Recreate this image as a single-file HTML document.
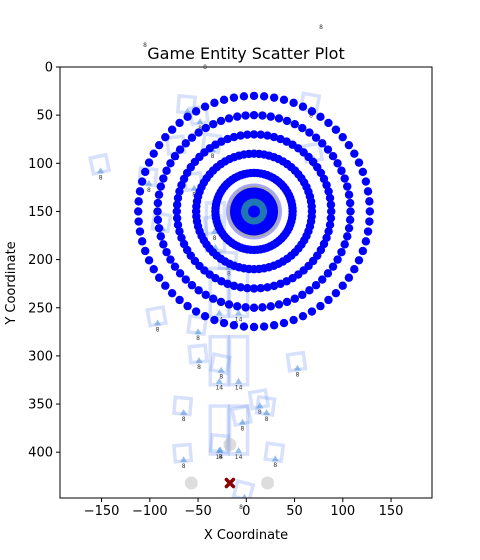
<!DOCTYPE html>
<html><head><meta charset="utf-8"><style>
body{margin:0;background:#fff}
svg{display:block;font-family:"DejaVu Sans","Liberation Sans",sans-serif}
</style></head><body>
<svg id="chart" width="480" height="560" viewBox="0 0 480 560">
<rect width="480" height="560" fill="#fff"/>
<text x="246" y="59" font-size="16" text-anchor="middle" fill="#000">Game Entity Scatter Plot</text>
<g id="plot"></g>
<g id="axes"></g>
<text x="246" y="539" font-size="13" text-anchor="middle">X Coordinate</text>
<text transform="translate(15,283) rotate(-90)" font-size="13" text-anchor="middle">Y Coordinate</text>
</svg>
<script>
const xTicks=[-150,-100,-50,0,50,100,150];
const yTicks=[0,50,100,150,200,250,300,350,400];
const ringRadii=[120,100,80,60,40];
const ringCenter=[8,150];
const ringPointCount=72;
const sqX=[-152,-62,-49,66,-73,-36,69,-102,-55,-88,-34,-19,-93,-51,-50,-27,52,-66,13,20,-5,-28,-66,29,-3];
const sqY=[101,39,50,37,81,79,89,114,119,161,164,201,259,268,298,308,306,352,345,352,362,391,401,400,440];
const sqRot=[-12,5,-8,10,-6,8,-10,6,-5,10,-8,4,-10,8,-6,12,-8,5,-10,8,-12,6,-5,8,15];
const tallX=[-28,-8,-28,-8,-28,-8,-32];
const tallY=[234,234,305,305,377,377,166];
const tallLabel=["14","14","14","14","14","14","14"];
const circX=[-17,-57,22];
const circY=[392,432,432];
const playerX=[-17];
const playerY=[432];

const X0=60,X1=432,Y0=67,Y1=498;
const sx=v=>246.3+v*0.965;
const sy=v=>67+v*0.963;
const NS="http://www.w3.org/2000/svg";
const plot=document.getElementById('plot');
const axes=document.getElementById('axes');
function mk(tag,attrs,parent){const e=document.createElementNS(NS,tag);for(const k in attrs)e.setAttribute(k,attrs[k]);parent.appendChild(e);return e;}
const defs=mk('defs',{},plot);
const cp=mk('clipPath',{id:'clip'},defs);
mk('rect',{x:X0,y:Y0,width:X1-X0,height:Y1-Y0},cp);
const g=mk('g',{'clip-path':'url(#clip)'},plot);

function label(px,py,t){
  const tx=mk('text',{x:px,y:py,'font-size':'6','text-anchor':'middle',fill:'#333'},g);
  tx.textContent=t;
  
  
}
function tri(px,py){
  const p=mk('polygon',{points:`${px-3.5},${py+3} ${px+3.5},${py+3} ${px},${py-3}`,fill:'#4a90d9','fill-opacity':'0.55'},g);
  
  
}
for(let i=0;i<sqX.length;i++){
  const px=sx(sqX[i]),py=sy(sqY[i]);
  const r=mk('rect',{x:px-8,y:py-8,width:16,height:16,fill:'none',stroke:'#6f95f0','stroke-opacity':'0.28','stroke-width':'3.5',transform:`rotate(${sqRot[i]} ${px} ${py})`},g);
  
  
  tri(px+1,py+6);
  label(px+1,py+15,'8');
}
for(let i=0;i<tallX.length;i++){
  const px=sx(tallX[i]),py=sy(tallY[i]);
  const r=mk('rect',{x:px-9,y:py-24,width:18,height:48,fill:'none',stroke:'#6f95f0','stroke-opacity':'0.28','stroke-width':'3.5'},g);
  
  
  tri(px,py+20);
  label(px,py+29,tallLabel[i]);
}
for(let i=0;i<circX.length;i++){
  const c=mk('circle',{cx:sx(circX[i]),cy:sy(circY[i]),r:6.5,fill:'#bbb','fill-opacity':'0.5'},g);
  
  
}
for(let i=0;i<playerX.length;i++){
  const px=sx(playerX[i]),py=sy(playerY[i]);
  const p=mk('path',{d:`M${px-3.5},${py-3.5}L${px+3.5},${py+3.5}M${px+3.5},${py-3.5}L${px-3.5},${py+3.5}`,stroke:'#8b0000','stroke-width':'3.5','stroke-linecap':'round'},g);
  
  
}
for(let k=0;k<ringRadii.length;k++){
  for(let j=0;j<ringPointCount;j++){
    const a=2*Math.PI*j/ringPointCount;
    const c=mk('circle',{cx:sx(ringCenter[0]+ringRadii[k]*Math.cos(a)),cy:sy(ringCenter[1]+ringRadii[k]*Math.sin(a)),r:4.2,fill:'#0000ff'},g);
    
    
  }
}
const cx=sx(ringCenter[0]),cy=sy(ringCenter[1]);
mk('circle',{cx,cy,r:28,fill:'#6b6bff','fill-opacity':'0.6'},g);
mk('circle',{cx,cy,r:26,fill:'#aaa'},g);
const core=mk('circle',{cx,cy,r:24,fill:'#0000ff'},g);


mk('circle',{cx,cy,r:13,fill:'#1f77b4'},g);
mk('circle',{cx,cy,r:6,fill:'#0000ff'},g);

mk('rect',{x:X0,y:Y0,width:X1-X0,height:Y1-Y0,fill:'none',stroke:'#000','stroke-width':'1'},axes);
xTicks.forEach(v=>{
  const px=sx(v);
  mk('line',{x1:px,x2:px,y1:Y1,y2:Y1+4,stroke:'#000'},axes);
  const t=mk('text',{x:px,y:Y1+17,'font-size':'13','text-anchor':'middle'},axes);
  t.textContent=v<0?'\u2212'+Math.abs(v):String(v);
  
  
});
yTicks.forEach(v=>{
  const py=sy(v);
  mk('line',{x1:X0-4,x2:X0,y1:py,y2:py,stroke:'#000'},axes);
  const t=mk('text',{x:X0-7,y:py+4.5,'font-size':'13','text-anchor':'end'},axes);
  t.textContent=String(v);
  
  
});
[[321,29],[145,47],[205,69],[241,509]].forEach(p=>{
  const t=mk('text',{x:p[0],y:p[1],'font-size':'6','text-anchor':'middle',fill:'#333'},axes);
  t.textContent='8';
  
  
});
</script>
</body></html>
